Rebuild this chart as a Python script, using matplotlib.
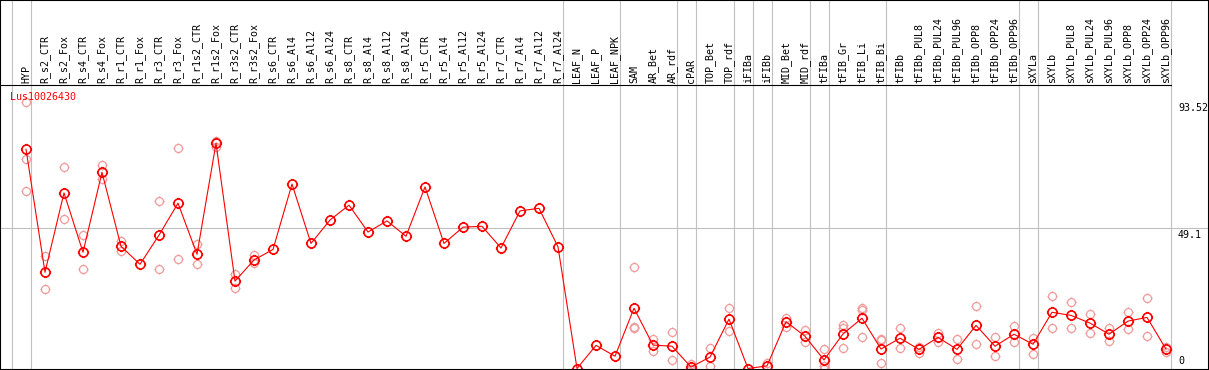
import matplotlib
matplotlib.use('Agg')
import matplotlib.pyplot as plt
import numpy as np
from matplotlib.path import Path
from matplotlib.patches import Rectangle
from matplotlib.transforms import blended_transform_factory

nan = np.nan

gene = 'Lus10026430'

samples = ['HYP', 'R_s2_CTR', 'R_s2_Fox', 'R_s4_CTR', 'R_s4_Fox', 'R_r1_CTR', 'R_r1_Fox',
           'R_r3_CTR', 'R_r3_Fox', 'R_r1s2_CTR', 'R_r1s2_Fox', 'R_r3s2_CTR', 'R_r3s2_Fox',
           'R_s6_CTR', 'R_s6_Al4', 'R_s6_Al12', 'R_s6_Al24', 'R_s8_CTR', 'R_s8_Al4',
           'R_s8_Al12', 'R_s8_Al24', 'R_r5_CTR', 'R_r5_Al4', 'R_r5_Al12', 'R_r5_Al24',
           'R_r7_CTR', 'R_r7_Al4', 'R_r7_Al12', 'R_r7_Al24', 'LEAF_N', 'LEAF_P', 'LEAF_NPK',
           'SAM', 'AR_Bet', 'AR_rdf', 'cPAR', 'TOP_Bet', 'TOP_rdf', 'iFIBa', 'iFIBb',
           'MID_Bet', 'MID_rdf', 'tFIBa', 'tFIB_Gr', 'tFIB_Li', 'tFIB_Bi', 'tFIBb',
           'tFIBb_PUL8', 'tFIBb_PUL24', 'tFIBb_PUL96', 'tFIBb_OPP8', 'tFIBb_OPP24',
           'tFIBb_OPP96', 'sXYLa', 'sXYLb', 'sXYLb_PUL8', 'sXYLb_PUL24', 'sXYLb_PUL96',
           'sXYLb_OPP8', 'sXYLb_OPP24', 'sXYLb_OPP96']

# mean expression per sample
mean_expr = [76.8, 33.7, 61.5, 40.7, 68.7, 42.8, 36.5, 46.7, 57.9, 40.0,
             78.9, 30.6, 38.0, 41.7, 64.6, 43.8, 52.0, 57.2, 47.8, 51.7,
             46.3, 63.6, 43.8, 49.5, 49.8, 42.2, 55.2, 56.1, 42.6, 0.0,
             8.1, 4.3, 21.1, 8.2, 7.8, 0.5, 4.0, 17.3, 0.0, 0.9,
             16.4, 11.3, 3.0, 12.1, 17.6, 6.8, 10.6, 6.7, 10.9, 6.7,
             15.1, 7.8, 12.0, 8.5, 19.7, 18.6, 15.9, 12.0, 16.6, 17.9, 6.8]

# single replicates (nan = not shown)
rep_a = [93.5, 39.4, 70.5, 46.7, 71.2, 44.6, nan, 58.6, 77.1, 43.7,
         79.8, 33.0, 39.6, nan, nan, nan, nan, nan, nan, nan,
         nan, nan, nan, nan, nan, nan, nan, nan, nan, nan,
         nan, nan, 35.4, 10.2, 12.7, 1.5, 7.1, 21.1, nan, 2.0,
         17.6, 13.5, 6.7, 15.2, 21.1, 10.3, 14.1, 7.6, 12.3, 10.3,
         21.8, 11.1, 14.8, 10.8, 25.4, 23.2, 19.0, 14.1, 19.8, 24.6, 7.6]
rep_b = [73.3, 27.7, 52.3, 34.7, 66.3, 41.3, nan, 34.7, 38.2, 36.7,
         77.7, 28.3, 36.8, nan, nan, nan, nan, nan, nan, nan,
         nan, nan, nan, nan, nan, nan, nan, nan, nan, nan,
         nan, nan, 14.6, 6.0, 3.0, 0.0, 1.0, 13.1, nan, nan,
         14.6, 9.4, 0.9, 14.3, 20.5, 9.9, 7.1, 5.5, 9.4, 3.2,
         8.5, 4.3, 9.4, 5.0, 14.1, 14.1, 12.5, 9.5, 13.7, 11.3, 5.9]
rep_c = [62.1, nan, nan, nan, nan, nan, nan, nan, nan, nan,
         nan, nan, nan, nan, nan, nan, nan, nan, nan, nan,
         nan, nan, nan, nan, nan, nan, nan, nan, nan, nan,
         nan, nan, 14.3, nan, nan, nan, nan, nan, nan, nan,
         nan, nan, 0.0, 7.1, 11.1, 1.8, nan, nan, nan, nan,
         nan, nan, nan, nan, nan, nan, nan, nan, nan, nan, nan]

# index of the last sample in each group (gray separators)
group_ends = [-1, 0, 28, 31, 34, 35, 37, 38, 39, 41, 42, 45, 52, 53, 60]

y_ticks = [93.52, 49.1, 0]
y_tick_labels = ['93.52', '49.1', '0']

# layout in pixels
W, H = 1209, 370
x0_px, step_px = 26, 19
top_px, bot_px, zero_px = 85, 369, 368.5
px_per_unit = (zero_px - 228.3) / 49.1

fig = plt.figure(figsize=(W / 100, H / 100), dpi=100)
fig.patch.set_facecolor('white')
ax = fig.add_axes([0, (H - bot_px) / H, 1, (bot_px - top_px) / H])
ax.axis('off')

x = np.arange(len(samples))
gray = '#c0c0c0'
red = '#ff0000'
pink = '#f09a9a'
mono = 'DejaVu Sans Mono'

# circle marker with small ticks
tk = 1.25
marker_path = Path.make_compound_path(
    Path.unit_circle(),
    Path([(0, 1), (0, tk)]), Path([(0, -1), (0, -tk)]),
    Path([(1, 0), (tk, 0)]), Path([(-1, 0), (-tk, 0)]))

fig_y = blended_transform_factory(ax.transData, fig.transFigure)
ax.vlines([g + 0.24 for g in group_ends], 0, 1, transform=fig_y,
          color=gray, lw=0.8, clip_on=False, zorder=1)
ax.axhline(49.1, color=gray, lw=0.8, zorder=1)

for reps in (rep_c, rep_b, rep_a):
    ax.plot(x, reps, ls='none', marker=marker_path, ms=7.2, mfc='none',
            mec=pink, mew=0.9, zorder=2, clip_on=False)

ax.plot(x, mean_expr, color=red, lw=0.8, marker=marker_path, ms=8.1,
        mfc='none', mec=red, mew=1.2, zorder=3, clip_on=False)

ax.set_xlim(-x0_px / step_px, (W - x0_px) / step_px)
ax.set_ylim((zero_px - bot_px) / px_per_unit, (zero_px - top_px) / px_per_unit)

# top separator line under the labels
ax.axhline(ax.get_ylim()[1], xmax=1171 / W, color='black', lw=0.8, clip_on=False)

for i, lab in enumerate(samples):
    ax.text(i, (H - 83) / H, lab, transform=fig_y, rotation=90, ha='center',
            va='bottom', fontsize=7.2, family=mono)

ax_y = blended_transform_factory(ax.transAxes, ax.transData)
for v, lab in zip(y_ticks, y_tick_labels):
    if v == 0:
        ax.annotate(lab, xy=(1178 / W, v), xycoords=ax_y, xytext=(0, 1.5),
                    textcoords='offset points', ha='left', va='bottom',
                    fontsize=7.2, family=mono)
    else:
        ax.annotate(lab, xy=(1178 / W, v), xycoords=ax_y, xytext=(0, -1),
                    textcoords='offset points', ha='left', va='top',
                    fontsize=7.2, family=mono)

fig.text(10 / W, (H - 97) / H, gene, color=red, ha='left', va='center',
         fontsize=7.2, family=mono)

fig.add_artist(Rectangle((0, 0), 1, 1, transform=fig.transFigure, fill=False,
                         edgecolor='black', lw=1.5))

fig.savefig('out.png', dpi=100)
